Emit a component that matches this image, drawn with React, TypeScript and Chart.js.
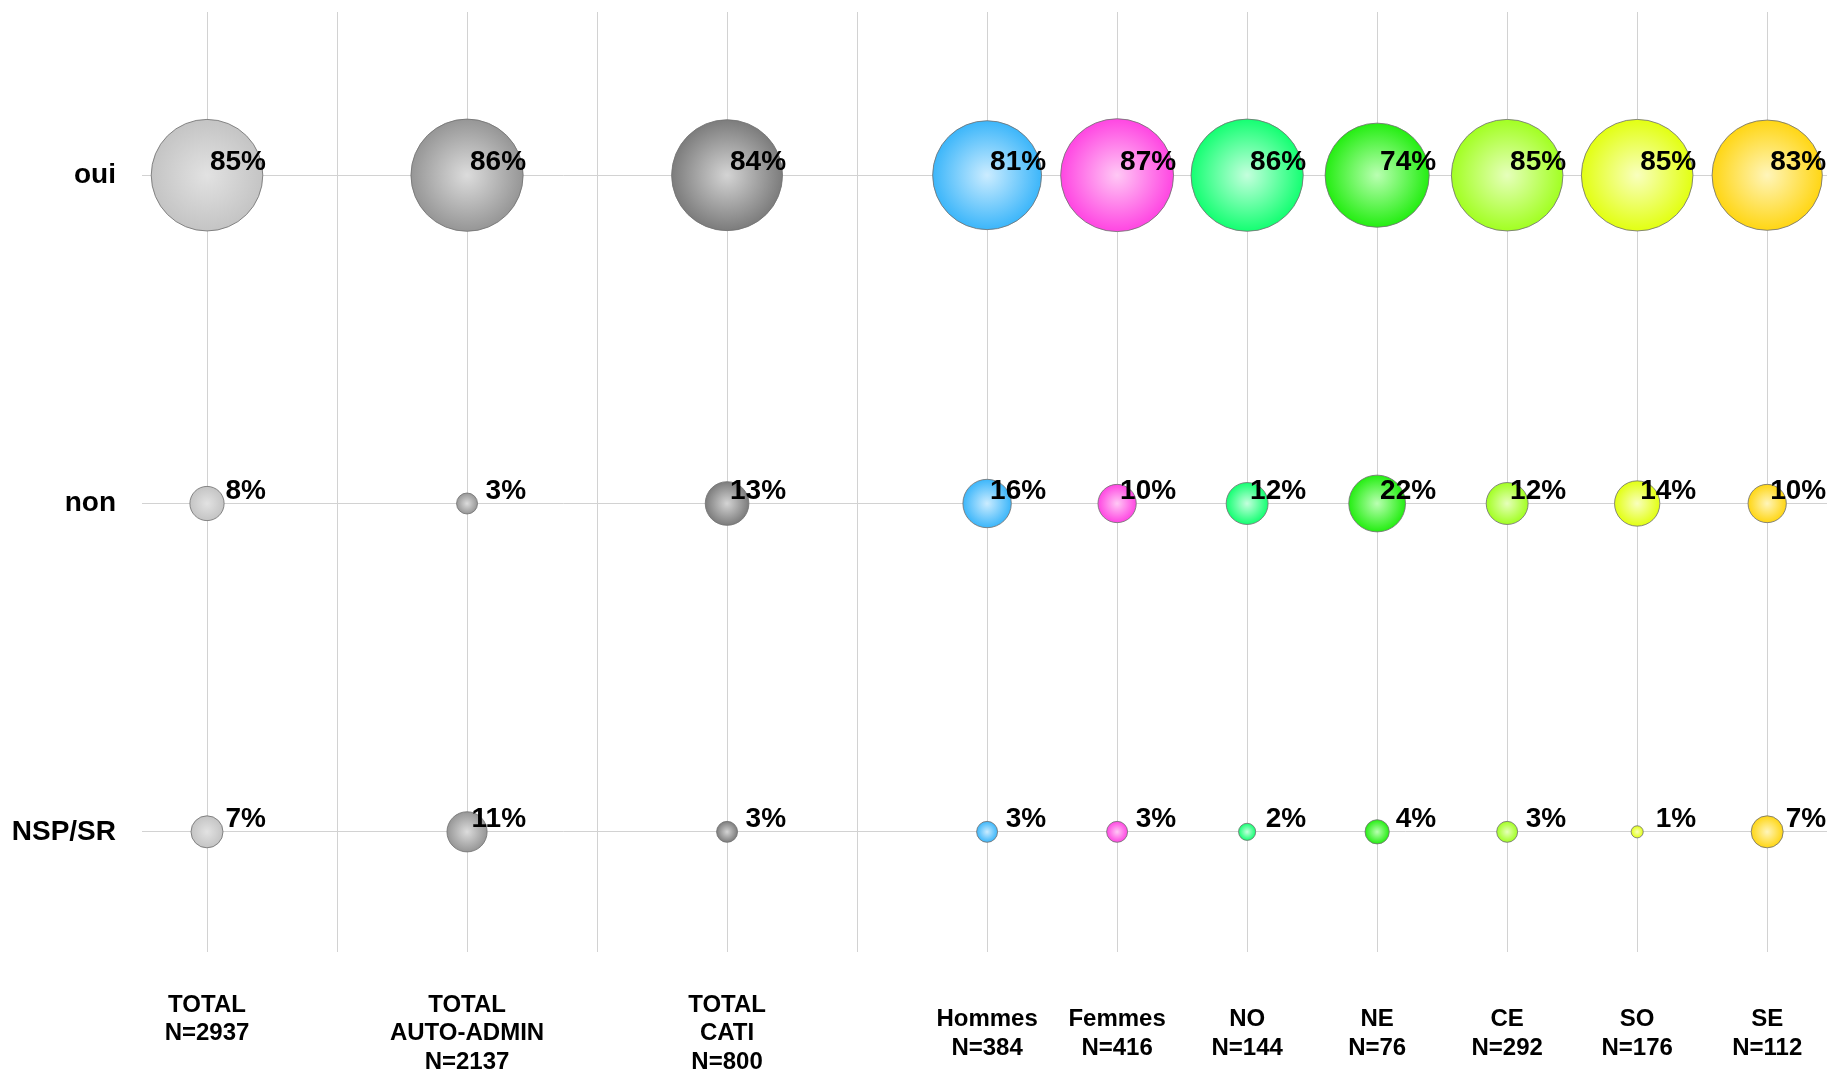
import React, { useEffect, useRef } from "react";
import { Chart, registerables } from "chart.js";

Chart.register(...registerables);

// x-axis categories (null = empty spacer column)
const CATEGORIES: (string[] | null)[] = [
  ["TOTAL", "N=2937", ""],
  null,
  ["TOTAL", "AUTO-ADMIN", "N=2137"],
  null,
  ["TOTAL", "CATI", "N=800"],
  null,
  ["Hommes", "N=384"],
  ["Femmes", "N=416"],
  ["NO", "N=144"],
  ["NE", "N=76"],
  ["CE", "N=292"],
  ["SO", "N=176"],
  ["SE", "N=112"],
];

// y-axis rows (value 1..3)
const ROWS = ["NSP/SR", "non", "oui"];

// series values (%), one per non-empty category
const OUI = [85, 86, 84, 81, 87, 86, 74, 85, 85, 83];
const NON = [8, 3, 13, 16, 10, 12, 22, 12, 14, 10];
const NSP = [7, 11, 3, 3, 3, 2, 4, 3, 1, 7];

const EDGE = ["#c4c4c4", "#969696", "#7c7c7c", "#3cb6fa", "#ff46e2", "#14ff72", "#24ee12", "#a2ff22", "#e2ff12", "#ffd614"];
const CENTER = ["#e2e2e2", "#dcdcdc", "#d4d4d4", "#cbecff", "#ffc8f5", "#c4ffdd", "#baffb2", "#e6ffbb", "#f9ffbe", "#fff5ba"];

const FONT = '"Liberation Sans", Arial, Helvetica, sans-serif';
const K = 6.05;

export default function App() {
  const ref = useRef<HTMLCanvasElement | null>(null);

  useEffect(() => {
    if (!ref.current) return;
    const positions: number[] = [];
    CATEGORIES.forEach((c, i) => {
      if (c) positions.push(i);
    });

    const datasets = positions.map((xPos, gi) => {
      const bg = (ctx: any) => {
        if (ctx.type !== "data") return EDGE[gi];
        const chart = ctx.chart;
        const xs = chart.scales?.x;
        const ys = chart.scales?.y;
        const raw = ctx.raw;
        if (!xs || !ys || !raw) return EDGE[gi];
        const x = xs.getPixelForValue(raw.x);
        const y = ys.getPixelForValue(raw.y);
        const r = Math.max(raw.r, 1);
        if (!isFinite(x) || !isFinite(y)) return EDGE[gi];
        const g = chart.ctx.createRadialGradient(x, y, 0, x, y, r);
        g.addColorStop(0, CENTER[gi]);
        g.addColorStop(1, EDGE[gi]);
        return g;
      };
      const vals = [OUI[gi], NON[gi], NSP[gi]];
      const ys = [3, 2, 1];
      return {
        label: (CATEGORIES[xPos] as string[])[0],
        data: vals.map((v, k) => ({ x: xPos, y: ys[k], r: K * Math.sqrt(v), v })),
        backgroundColor: bg,
        borderColor: "rgba(115,115,115,0.85)",
        borderWidth: 1,
        hoverBorderWidth: 1,
        clip: false,
      };
    });

    const labelPlugin = {
      id: "bubbleLabels",
      afterDatasetsDraw(chart: any) {
        const c = chart.ctx;
        c.save();
        c.font = `bold 28px ${FONT}`;
        c.fillStyle = "#000";
        c.textAlign = "right";
        c.textBaseline = "alphabetic";
        chart.data.datasets.forEach((ds: any, i: number) => {
          const meta = chart.getDatasetMeta(i);
          meta.data.forEach((el: any, j: number) => {
            c.fillText(`${ds.data[j].v}%`, el.x + 59, el.y - 5);
          });
        });
        c.restore();
      },
    };

    const chart = new Chart(ref.current, {
      type: "bubble",
      data: { datasets } as any,
      options: {
        responsive: false,
        animation: false,
        events: [],
        layout: { autoPadding: false, padding: { top: 12, left: 0, right: 0, bottom: 0 } },
        plugins: { legend: { display: false }, tooltip: { enabled: false } },
        scales: {
          x: {
            type: "linear",
            min: -0.5,
            max: 12.46,
            border: { display: false },
            grid: { color: "#d2d2d2", lineWidth: 1, drawTicks: false },
            afterBuildTicks: (s: any) => {
              s.ticks = CATEGORIES.map((_, i) => ({ value: i }));
            },
            afterFit: (s: any) => {
              s.height = 121;
              s.paddingLeft = 0;
              s.paddingRight = 0;
            },
            ticks: {
              autoSkip: false,
              maxRotation: 0,
              minRotation: 0,
              padding: 53,
              crossAlign: "center",
              color: "#000",
              font: { family: FONT, size: 24, weight: "bold", lineHeight: 1.2 },
              callback: (v: any) => {
                const c = CATEGORIES[Math.round(Number(v))];
                return c ? c : "";
              },
            },
          },
          y: {
            type: "linear",
            min: 0.634,
            max: 3.497,
            border: { display: false },
            grid: { color: "#d2d2d2", lineWidth: 1, drawTicks: false },
            afterBuildTicks: (s: any) => {
              s.ticks = ROWS.map((_, i) => ({ value: i + 1 }));
            },
            afterFit: (s: any) => {
              s.width = 142;
              s.paddingTop = 0;
              s.paddingBottom = 0;
            },
            ticks: {
              padding: 26,
              color: "#000",
              font: { family: FONT, size: 28, weight: "bold" },
              callback: (v: any) => ROWS[Math.round(Number(v)) - 1] ?? "",
            },
          },
        },
      } as any,
      plugins: [labelPlugin],
    });
    return () => chart.destroy();
  }, []);

  return (
    <div style={{ position: "absolute", left: 0, top: 0, width: 1827, height: 1073, background: "#fff" }}>
      <canvas ref={ref} width={1827} height={1073} style={{ display: "block" }} />
    </div>
  );
}
